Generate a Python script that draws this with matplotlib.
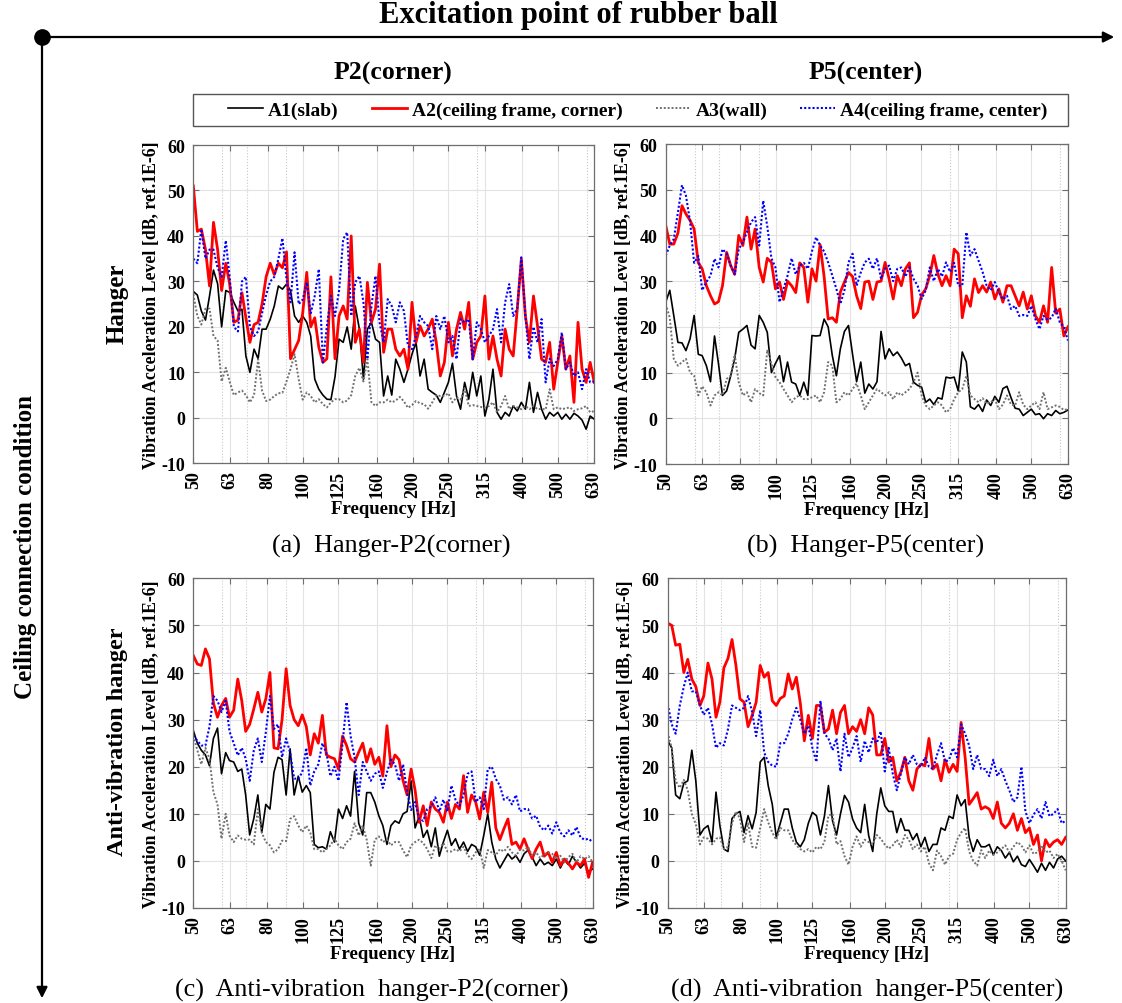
import matplotlib
matplotlib.use("Agg")
import matplotlib.pyplot as plt
from matplotlib.ticker import FixedLocator, NullFormatter
from matplotlib.patches import FancyArrowPatch, Rectangle
from matplotlib.lines import Line2D

plt.rcParams['font.family'] = ['Liberation Serif', 'DejaVu Serif']

# ---------------- data ----------------
FREQ = [50.0,
        51.3, 52.6, 54.0, 55.4, 56.8, 58.3, 59.8, 61.4, 62.9,
        64.6, 66.3, 68.0, 69.7, 71.5, 73.4, 75.3, 77.2, 79.2,
        81.3, 83.4, 85.6, 87.8, 90.1, 92.4, 94.8, 97.3, 99.8,
        102.4, 105.0, 107.7, 110.5, 113.4, 116.3, 119.3, 122.4, 125.6,
        128.9, 132.2, 135.6, 139.1, 142.8, 146.5, 150.2, 154.1, 158.1,
        162.2, 166.4, 170.8, 175.2, 179.7, 184.4, 189.2, 194.1, 199.1,
        204.2, 209.5, 215.0, 220.5, 226.3, 232.1, 238.1, 244.3, 250.6,
        257.1, 263.8, 270.6, 277.7, 284.9, 292.2, 299.8, 307.6, 315.6,
        323.7, 332.1, 340.7, 349.6, 358.6, 367.9, 377.4, 387.2, 397.3,
        407.6, 418.1, 429.0, 440.1, 451.5, 463.2, 475.2, 487.5, 500.1,
        513.1, 526.4, 540.0, 554.0, 568.4, 583.1, 598.3, 613.8, 629.7]

FREQ_TICKS = [50, 63, 80, 100, 125, 160, 200, 250, 315, 400, 500, 630]
LEVEL_TICKS = [-10, 0, 10, 20, 30, 40, 50, 60]
SERIES_NAMES = ['A1(slab)', 'A2(ceiling frame, corner)', 'A3(wall)',
                'A4(ceiling frame, center)']

# (a) Hanger - P2(corner)
a_A1 = [27.8,
        27, 23.5, 21.5, 26.8, 32.5, 29.5, 20, 28, 27.6, 25.4,
        23.5, 23.9, 13.6, 10, 15.1, 13, 19.5, 19.5, 21.7, 24.6,
        29, 28.3, 29.4, 28, 22.4, 21, 22.4, 21, 18, 8.5,
        6.3, 5, 4.1, 4, 9, 17.3, 16.6, 20, 15.1, 24.6,
        19.5, 8.5, 19.5, 21, 17.3, 16.6, 4.8, 9.2, 5, 12.9,
        10.7, 7.8, 10.7, 14, 16.6, 9.2, 12.9, 6.3, 5.6, 5,
        3.4, 5.6, 7.8, 12, 4.8, 1.9, 7.8, 4.1, 10, 4.8,
        9.2, 0.4, 4.1, 10.7, 1.2, -0.3, 1.2, 0.4, 2.6, 1.5,
        3.4, 1.9, 7.8, 1.2, 5.6, 1.9, -0.3, 1.2, 0.4, 1.2,
        -0.3, 0.8, -0.3, 1, 0.4, -0.5, -2.5, 0.4, -0.3]
a_A2 = [51,
        41, 41.5, 37, 29, 43, 37, 28, 34, 29.5, 21,
        21.5, 27.5, 22, 16.6, 20.5, 21, 25, 31, 34, 31.5,
        34, 33, 36.5, 13, 15, 17, 23, 32, 20, 22,
        15.5, 12.2, 13, 31, 13, 22.4, 24.6, 21.7, 40, 16.6,
        19.5, 12.2, 29.8, 21, 23.9, 33.8, 14.4, 19.5, 19.5, 15.1,
        13.6, 15.1, 10.7, 25.4, 16.6, 20.2, 18, 19.5, 21.7, 16.6,
        9.2, 12.2, 21, 13.6, 19.5, 23.2, 19.5, 25.4, 12.9, 16.6,
        18, 26.8, 12.9, 18, 12.9, 9.2, 19.5, 15.1, 13.6, 23.9,
        34.9, 22.4, 16.6, 26.8, 20.2, 12.9, 12.2, 16.6, 6.3, 12.2,
        18, 10.7, 13.6, 3.4, 21, 10.7, 7.8, 12.2, 7.8]
a_A3 = [27.2,
        22.4, 20.5, 24, 24, 18, 17, 8, 11, 8, 5,
        5.6, 6, 5, 3.4, 5, 12.9, 6, 3.7, 4, 4.8,
        5.4, 5.5, 8, 10.7, 14, 8.5, 4, 5.6, 4.8, 3.4,
        4.1, 3, 2.3, 3.4, 4.1, 4.1, 3.4, 3.8, 5, 9.2,
        11, 8, 12.9, 3.4, 2.6, 3.4, 3.4, 4, 3.4, 3.8,
        4.6, 3.6, 2.2, 2.8, 3.7, 3.2, 3, 2, 3.4, 5,
        4.8, 4.8, 5.4, 3.4, 4.5, 4, 6.5, 2.6, 2.8, 2.6,
        2.4, 2.2, 2.6, 3.4, 1.2, 2.6, 4.8, 1.9, 2.6, 2.3,
        1.9, 2.6, 1.9, 2.6, 1.9, 2, 1.8, 6.3, 1.9, 2.3,
        1.9, 2.1, 2.3, 1.5, 1.9, 2.1, 2.6, 1.2, 1.5]
a_A4 = [35,
        34, 41.5, 35, 37, 37, 33, 31, 39, 31, 20,
        19, 30, 31, 20, 18, 19, 23, 27, 30, 31,
        35, 39.5, 30.5, 25.4, 36.4, 25, 26, 29.8, 23, 26.8,
        32.7, 12.2, 20.2, 26.8, 22.4, 28, 39.3, 40.8, 22.4, 29.8,
        31.2, 25.4, 12.9, 24.6, 31.2, 21, 16.6, 26.1, 24.6, 21,
        25.4, 23.5, 15.8, 15.1, 18, 22.4, 21, 20.2, 15.1, 22.4,
        19.5, 22.4, 16.6, 18, 12.9, 21.7, 21, 21.7, 12.9, 21,
        19.5, 16.6, 18, 19.5, 23.9, 16.6, 25.4, 29.4, 22.4, 24,
        35.3, 22.4, 12.9, 20, 16.6, 21.7, 7.8, 13, 11.4, 12.9,
        18.8, 10.7, 12.2, 9.2, 10, 6.3, 10.7, 7.8, 8]

# (b) Hanger - P5(center)
b_A1 = [25.4,
        28, 22.5, 16.6, 16.5, 14.8, 17.4, 22.5, 14, 13.7, 11.5,
        8, 18, 12, 5, 6, 9.3, 13, 18.8, 19.5, 20.3,
        16, 15.2, 22.5, 21, 18.8, 10, 12, 13.7, 8, 12.3,
        7.9, 7.5, 5, 7.9, 5, 18.1, 18, 18.1, 21.7, 20,
        13.7, 9.3, 15.2, 19, 20.3, 14, 8, 12.3, 5.5, 7.5,
        6.4, 8, 19, 13, 15.2, 13.7, 14.5, 13.2, 11.5, 12,
        7.9, 7.2, 6.8, 3.5, 4.2, 3, 4.5, 4.2, 9, 8.8,
        9, 6, 14.5, 12.3, 2.5, 2, 3, 1.5, 4, 2.8,
        4.8, 3.5, 6.5, 7, 4.5, 2.2, 2, 0.6, 1.3, 2,
        0.8, 1, -0.1, 1, 0.6, 1.7, 1, 1.3, 1.8]
b_A2 = [42.2,
        38.1, 38.1, 40.5, 46.5, 44.7, 43.3, 41.4, 34, 32.7, 29,
        26.8, 25, 25.5, 29, 36.3, 33.4, 31.5, 40, 37.8, 44,
        37, 41.4, 33, 29.8, 35, 34.1, 28.3, 29.8, 26, 30,
        29, 27.5, 34, 33, 25.4, 32.7, 30, 38, 31, 21.7,
        22, 21, 27.6, 29.8, 31.9, 31, 26.8, 24, 29.8, 30,
        26, 29.8, 30, 34.1, 30.5, 26.1, 31.2, 29, 32.7, 34,
        22, 23.2, 27, 28.3, 31.2, 35.6, 31.5, 29, 31.2, 29,
        37, 36, 22, 26.8, 24.5, 30.5, 27.5, 29, 27.6, 29.8,
        26.1, 28.3, 25.4, 29, 29, 26.8, 24.6, 27.6, 23.9, 26.8,
        22.4, 21, 24.6, 21, 33, 23, 23.9, 18, 20]
b_A3 = [25,
        22, 13, 11.5, 12.3, 13, 10, 9.3, 5, 7, 5.7,
        2.8, 5, 5.7, 5, 8.6, 9.3, 14, 7.9, 5, 5.7,
        3.5, 6.4, 5.5, 5, 15, 12, 9, 7.9, 6.4, 5,
        3.5, 4.6, 5, 4.2, 4.2, 4.6, 5, 3.5, 5.7, 12.3,
        11.5, 3.5, 4.2, 5.7, 5, 6.4, 7.6, 5, 2, 3.5,
        5, 6.4, 5.7, 5, 5.7, 4.2, 5.7, 5, 5.7, 6.4,
        7.9, 10, 5, 2.8, 2, 2.8, 3.5, 2.8, 1.3, 2,
        4.2, 5.7, 6.4, 9.3, 5, 4.2, 3.5, 4.4, 3.2, 3.5,
        4.2, 2, 3, 5, 3, 2.8, 5.7, 3, 2, 2.8,
        3.5, 2, 5.7, 2, 2.4, 2.8, 2.5, 1.8, 2]
b_A4 = [35.6,
        37.8, 39.2, 45, 51, 48.7, 43, 34, 35.5, 28, 29.8,
        31.2, 34.9, 33, 37, 36, 33.4, 31.5, 37, 38.5, 40.7,
        42.9, 44, 37.8, 47.6, 42, 35, 33, 25.4, 28.3, 31.2,
        35, 31.5, 33.4, 34, 32.7, 36.5, 39.6, 37.8, 36.5, 34.1,
        31.2, 28.3, 25, 28, 34.1, 36, 29, 31.9, 34.1, 34.9,
        32.7, 35, 30.5, 32.7, 33.4, 30, 32.7, 33, 31, 33,
        30.5, 29, 26.1, 28, 33, 30, 32.7, 31, 34.1, 32,
        34, 29, 29, 40.7, 35.6, 37, 34.5, 32, 29, 28,
        29.8, 27.6, 26, 26.8, 23.9, 24.6, 22.4, 22.6, 22.4, 24.6,
        21.7, 19.5, 22.4, 21.5, 22, 24, 21, 20, 17]

# (c) Anti-vibration hanger - P2(corner)
c_A1 = [27.7,
        25, 23.5, 22.5, 20.2, 26, 28.2, 18.5, 23, 21.3, 21,
        19, 19.5, 14, 5.5, 9, 14, 6, 12, 11, 18.8,
        22, 21.5, 14, 23.8, 14, 18, 14.6, 16, 14.5, 3.5,
        2.8, 3, 2.5, 6.2, 4, 11, 9, 11.7, 9.5, 19,
        8, 5.5, 14.5, 14.5, 12.5, 9.6, 7.5, 3.5, 7.5, 8.5,
        8, 10, 10.5, 17, 7, 9.5, 5, 6.5, 3, 7,
        1, 4, 6.5, 3.3, 4.7, 2.5, 4, 2, 3.5, 3,
        1.2, 5.4, 10, 4, 0.4, -1.5, 0, 1.5, 0.4, 1.1,
        -0.3, 1.5, 2.3, 0.8, -1, 0.4, -0.8, -0.3, -1, 0.4,
        -1.5, 0.2, -0.8, 1, -0.3, -1.5, -0.5, -2.4, -1.7]
c_A2 = [43.6,
        41.8, 41.5, 45, 42.9, 33.5, 30.5, 33, 34.5, 30.5, 32,
        38.6, 34, 27.5, 29, 32.3, 35.8, 31.6, 34.4, 40, 24,
        23.8, 30, 40.8, 33, 30, 28.7, 31, 28.5, 22.5, 27,
        25, 30.9, 22.5, 22, 21.7, 19.5, 26.5, 24.5, 21.7, 21,
        23.1, 25, 21, 23.8, 20.5, 22, 18, 28.7, 20, 22.5,
        21.5, 17, 14, 19.5, 15, 8.2, 11.7, 7.5, 12.5, 11,
        10.3, 8.2, 12.5, 9, 12, 11, 18.1, 10.3, 14, 12.5,
        8.9, 14.6, 10.3, 16.7, 7, 4.5, 6.8, 8.9, 3.5, 4,
        2.5, 4.7, 2.5, 0.5, 2.5, 4, 1, 1.8, -0.3, 1.8,
        -1, 0.4, -0.5, -1.7, -0.3, -1, 0.4, -3.5, -0.3]
c_A3 = [26.6,
        23.5, 20.5, 24, 21.7, 14.6, 12, 4.7, 10, 5.4, 4,
        5.4, 4.7, 4.5, 4.5, 3.5, 11, 6, 4, 3.3, 1.8,
        2.5, 4.3, 4.2, 8.9, 9.5, 7.5, 6.1, 7.5, 6, 2.5,
        2.5, 1.8, 2.5, 3.3, 4.7, 3.3, 2.5, 4, 4.7, 8,
        5.4, 7.5, 4.5, -1, 4.5, 5.2, 4, 4.5, 3.3, 4,
        4, 2.2, 0.8, 3.3, 4, 4.5, 3.8, 2.5, 0.6, 3.3,
        2.5, 3.8, 2, 2, 2.5, 2, 3, 1.2, 0.4, 1.8,
        2.5, -1.5, 2.3, 1.8, 1.2, 2.5, 2, 3, 1.8, 1.1,
        2.4, 2.2, 3, 1.1, 1.8, 0.6, 1.4, 1.8, 1.5, 0.4,
        1.1, -0.3, 0.8, 1.5, -0.3, 1, 0.4, 1, -0.3]
c_A4 = [26.6,
        25.5, 24.5, 24.5, 28.5, 35, 34, 31.6, 34, 27.5, 25,
        22.4, 24, 21.7, 17, 23.5, 26, 21, 27.3, 35, 28,
        29, 22, 26, 23, 17.5, 17.4, 18.8, 24, 16, 19,
        20.5, 25, 23, 18, 20, 17, 25, 33.7, 26.5, 22,
        14, 21, 19, 17, 18.5, 19, 15.5, 18.8, 21.5, 20.5,
        17, 20.5, 14.6, 10.8, 12.5, 8.9, 8.5, 11, 11.5, 13.5,
        10.5, 13, 10.5, 16, 13, 11.7, 14, 18.5, 19, 12.5,
        13.5, 11, 19.5, 20, 17.4, 16, 13, 13.5, 12, 14,
        10.5, 11, 11, 9, 9.6, 7.2, 6.5, 7.5, 5.8, 8.2,
        6, 5.2, 6.5, 5.4, 7.2, 5, 4.5, 4.7, 4]

# (d) Anti-vibration hanger - P5(center)
d_A1 = [25.5,
        24, 14, 13.2, 16.5, 17, 23.5, 17, 5.5, 6.8, 7.5,
        4, 14.6, 7.5, 2.5, 2, 9, 10, 10.5, 6, 9.6,
        6.8, 10.3, 21, 22, 16, 12, 5, 8, 11, 11,
        7, 4, 3, 4.5, 8, 10.3, 9.6, 5.5, 9.5, 16,
        8.5, 5.5, 10, 13.9, 12.5, 8.9, 7, 6, 12, 5.4,
        2, 10, 15.5, 11.7, 10.5, 10.5, 6, 9, 6.5, 6.5,
        4.5, 5.8, 3, 5, 2, 3.5, 3.5, 7, 6.5, 9.5,
        9, 14, 11.7, 13, 5, 2, 4.5, 3, 3, 3.5,
        1.3, 3, 2.2, 0.6, 1.8, -0.2, 1, -0.8, -1.2, 0.3,
        -1, -2.4, -0.5, -2, -0.3, -1.5, 0.4, 1, 0]
d_A2 = [50.5,
        50, 45.8, 46, 40, 42.8, 38.6, 37, 33, 35, 42,
        38.6, 30.5, 33.7, 41, 43, 47, 41.5, 34.4, 33.7, 28.5,
        30.9, 33.7, 41.5, 39, 40, 34, 33, 34.5, 35, 39.7,
        36.5, 39, 33.5, 25.5, 30.9, 26, 33, 33, 27.3, 28,
        32, 27, 31.5, 33, 27, 28.5, 27.5, 30, 27, 32.5,
        31, 22.5, 22.5, 26, 21, 22, 17, 18.8, 22, 17,
        15, 19.5, 20.5, 20.2, 26, 19.5, 20.5, 17, 21.5, 18.8,
        20.5, 19, 29.4, 22, 12, 13.2, 14.5, 11, 11.5, 11,
        9, 12.5, 8, 7, 8, 10, 6.5, 9, 6, 7,
        3.5, 5.5, 0, 4.5, 3, 4, 4.5, 3.5, 5]
d_A3 = [27.3,
        24, 17, 15.5, 17.2, 15, 10, 7.8, 3.5, 5, 4.7,
        3.5, 4.7, 5, 2.5, 3, 8, 10.5, 9, 4, 8,
        3, 2.8, 7, 11, 8.2, 6, 4.5, 7, 6.5, 6.5,
        4.5, 3.3, 2.5, 2, 2.5, 1.8, 3, 2.5, 4, 9.6,
        10, 3.5, 4.2, 1, -0.8, 3, 5.2, 3, 4.5, 4,
        3.5, 5.5, 4.7, 3.5, 2.6, 3.3, 4.5, 3, 5.5, 4.5,
        2.5, 3.5, 2, 3, -0.5, -2, 2.2, 1, -0.8, 1,
        1.5, 4.5, 6, 7, 2, 0, -1, 2.3, 0.6, 2.2,
        1.3, 1.8, 2.5, 3.3, 1.8, 3, 4, 3.3, 1.8, 3.3,
        1.5, 1.8, 3.3, 1.8, 2.2, 0.6, 1.5, 0, -2]
d_A4 = [33.3,
        29, 27, 33, 37, 40, 36, 36, 33, 31, 32.5,
        29, 24, 25, 24.5, 28, 33, 32.5, 32, 32.5, 35,
        31.6, 26.5, 32, 23, 21, 20.2, 20, 25, 25, 27,
        30.1, 32.5, 30, 27, 28.7, 24, 21, 34, 27, 26,
        23.5, 26, 19, 27, 22, 24, 26.5, 21, 25.5, 23,
        26, 25, 27.5, 19, 24, 18.5, 15, 18.5, 22, 20.5,
        22.5, 20.5, 20, 22, 20, 19.5, 22.5, 25, 21, 21.5,
        24, 22, 29, 27, 24.5, 19.5, 22.5, 19.5, 19.5, 18,
        21.5, 18, 19.5, 17, 15, 12.5, 13.5, 20, 10.5, 8,
        9.8, 11, 9, 12.5, 9.5, 10, 11, 8, 8.5]

PANELS = [
    ('a', a_A1, a_A2, a_A3, a_A4),
    ('b', b_A1, b_A2, b_A3, b_A4),
    ('c', c_A1, c_A2, c_A3, c_A4),
    ('d', d_A1, d_A2, d_A3, d_A4),
]

# ---------------- layout ----------------
W, H = 1122, 1004
fig = plt.figure(figsize=(W / 100, H / 100), dpi=100)

def fx(px):
    return px / W

def fy(py):
    return 1 - py / H

AX_BOX = {
    'a': (193.3, 146.0, 594.3, 464.3),
    'b': (665.7, 145.0, 1068.0, 465.0),
    'c': (193.3, 579.3, 592.7, 909.0),
    'd': (667.7, 579.3, 1065.7, 909.0),
}

COLORS = ['black', '#ff0000', '#707070', '#0000ff']
STYLES = ['-', '-', (0, (1, 1)), (0, (1, 1))]
WIDTHS = [1.2, 2.0, 1.4, 1.5]
TICK_FS = 13
YLAB_FS = 12.8
XLAB_FS = 13.5

handles = []
for key, s1, s2, s3, s4 in PANELS:
    x0, y0, x1, y1 = AX_BOX[key]
    ax = fig.add_axes([fx(x0), fy(y1), fx(x1) - fx(x0), fy(y0) - fy(y1)])
    hs = []
    for data, c, ls, lw in zip([s1, s2, s3, s4], COLORS, STYLES, WIDTHS):
        ln, = ax.plot(FREQ, data, color=c, ls=ls, lw=lw)
        hs.append(ln)
    handles = hs
    ax.set_xscale('log')
    ax.set_xlim(50, 630)
    ax.set_ylim(-10, 60)
    ax.xaxis.set_major_locator(FixedLocator(FREQ_TICKS))
    ax.set_xticklabels([str(t) for t in FREQ_TICKS], rotation=90,
                       fontweight='bold', fontsize=TICK_FS)
    ax.xaxis.set_minor_locator(FixedLocator([60, 70, 90, 300, 600]))
    ax.xaxis.set_minor_formatter(NullFormatter())
    ax.set_yticks(LEVEL_TICKS)
    ax.set_yticklabels([str(t) for t in LEVEL_TICKS], fontweight='bold',
                       fontsize=TICK_FS)
    ax.grid(which='major', color='#e3e3e3', lw=0.8)
    ax.grid(which='minor', axis='x', color='#c8c8c8', ls=':', lw=0.8)
    ax.set_axisbelow(True)
    ax.tick_params(which='major', direction='in', length=4, width=0.8,
                   top=True, right=True, color='#6e6e6e')
    ax.tick_params(axis='x', which='major', pad=5)
    ax.tick_params(axis='y', which='major', pad=6)
    ax.tick_params(which='minor', length=0)
    for sp in ax.spines.values():
        sp.set_color('#6e6e6e')
        sp.set_linewidth(0.9)
    ax.set_ylabel('Vibration Acceleration Level [dB, ref.1E-6]',
                  fontweight='bold', fontsize=YLAB_FS, labelpad=1)
    ax.set_xlabel('Frequency [Hz]', fontweight='bold', fontsize=XLAB_FS,
                  labelpad=2)

# legend box
fig.add_artist(Rectangle((fx(193), fy(127)), fx(1068) - fx(193),
                         fy(95) - fy(127), transform=fig.transFigure,
                         facecolor='white', edgecolor='#555555', lw=1.0))
fig.legend(handles, SERIES_NAMES, loc='center',
           bbox_to_anchor=(fx(638), fy(111)), ncol=4, frameon=False,
           prop={'weight': 'bold', 'size': 14}, handlelength=1.8,
           columnspacing=1.7, handletextpad=0.25)

# titles / labels
fig.text(fx(578), fy(15), 'Excitation point of rubber ball', ha='center',
         va='center', fontsize=22, fontweight='bold')
fig.text(fx(393), fy(73), 'P2(corner)', ha='center', va='center',
         fontsize=18.5, fontweight='bold')
fig.text(fx(866), fy(73), 'P5(center)', ha='center', va='center',
         fontsize=18.5, fontweight='bold')
fig.text(fx(26), fy(547), 'Ceiling connection condition', ha='center',
         va='center', rotation=90, fontsize=18, fontweight='bold')
fig.text(fx(117), fy(304), 'Hanger', ha='center', va='center',
         rotation=90, fontsize=18, fontweight='bold')
fig.text(fx(117), fy(742), 'Anti-vibration hanger', ha='center',
         va='center', rotation=90, fontsize=17.5, fontweight='bold')
CAP_FS = 18.8
fig.text(fx(391), fy(546), '(a)  Hanger-P2(corner)', ha='center',
         va='center', fontsize=CAP_FS)
fig.text(fx(866), fy(546), '(b)  Hanger-P5(center)', ha='center',
         va='center', fontsize=CAP_FS)
fig.text(fx(372), fy(990), '(c)  Anti-vibration  hanger-P2(corner)',
         ha='center', va='center', fontsize=CAP_FS)
fig.text(fx(867), fy(990), '(d)  Anti-vibration  hanger-P5(center)',
         ha='center', va='center', fontsize=CAP_FS)

# arrows
fig.add_artist(FancyArrowPatch((fx(42), fy(38)), (fx(1117), fy(38)),
                               transform=fig.transFigure,
                               arrowstyle='-|>', mutation_scale=16,
                               lw=1.6, color='black'))
fig.add_artist(FancyArrowPatch((fx(42), fy(38)), (fx(42), fy(1002)),
                               transform=fig.transFigure,
                               arrowstyle='-|>', mutation_scale=16,
                               lw=1.6, color='black'))
fig.add_artist(Line2D([fx(42)], [fy(38)], marker='o', markersize=11,
                      color='black', transform=fig.transFigure))

fig.savefig('out.png', dpi=100)
